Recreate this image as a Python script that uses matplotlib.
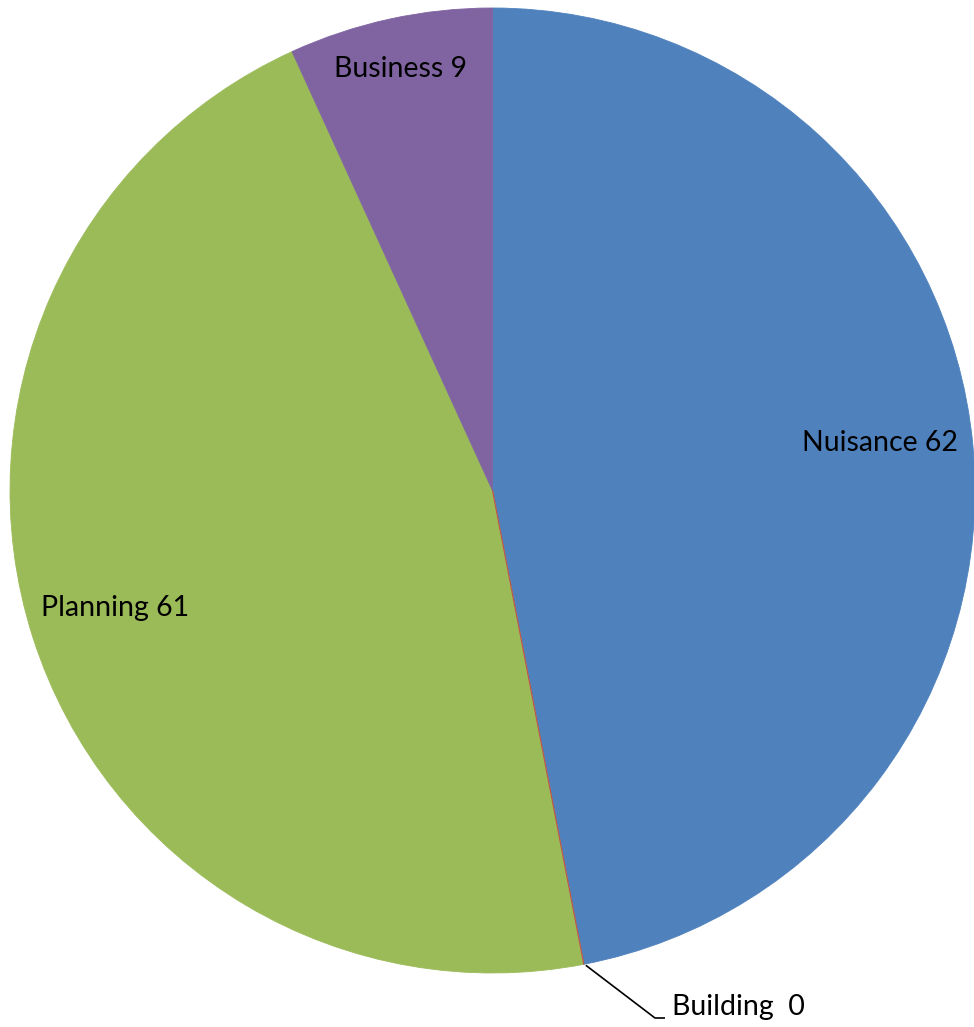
import matplotlib.pyplot as plt
import numpy as np

categories = ['Nuisance', 'Building', 'Planning', 'Business']
values = [62, 0, 61, 9]
label_texts = ['Nuisance 62', 'Building  0', 'Planning 61', 'Business 9']
colors = ['#4F81BD', '#C0504D', '#9BBB59', '#8064A2']

W, H = 974, 1027
cx, cy, R = 492.5, H - 490.5, 482.5

fig = plt.figure(figsize=(W / 100, H / 100), dpi=100)
ax = fig.add_axes([0, 0, 1, 1])

wedges, _ = ax.pie(values, colors=colors, startangle=90, counterclock=False,
                   center=(cx, cy), radius=R, frame=True,
                   wedgeprops=dict(linewidth=0.6))
for w in wedges:
    w.set_edgecolor(w.get_facecolor())
ax.set_xlim(0, W)
ax.set_ylim(0, H)
ax.set_aspect('equal')
ax.axis('off')

# angles of each slice (clockwise from top)
total = sum(values)
bounds = 90 - np.cumsum([0] + values) / total * 360
mids = (bounds[:-1] + bounds[1:]) / 2

font = 'Lato'
fs = 20.5
# label radial fractions, tuned to look like excel's best fit
fracs = {'Nuisance': 0.81, 'Planning': 0.82, 'Business': 0.895}
angle_fix = {'Nuisance': 1.5, 'Planning': -0.5, 'Business': 0.0}
for i, name in enumerate(categories):
    if name == 'Building':
        continue
    a = np.radians(mids[i] + angle_fix[name])
    r = fracs[name] * R
    ax.text(cx + r * np.cos(a), cy + r * np.sin(a), label_texts[i],
            ha='center', va='center', fontsize=fs, family=font, color='black')

# zero slice: thin red line plus leader to label
a = np.radians(bounds[1])
ex, ey = cx + R * np.cos(a), cy + R * np.sin(a)
ax.plot([cx, ex], [cy, ey], color=colors[1], lw=0.8)
ax.plot([ex + 2, 655, 665], [ey - 1, H - 1018, H - 1018], color='black', lw=1.2,
        solid_capstyle='butt')
ax.text(672, H - 1007, label_texts[1], ha='left', va='center', fontsize=fs,
        family=font, color='black')

fig.savefig('out.png', dpi=100)
